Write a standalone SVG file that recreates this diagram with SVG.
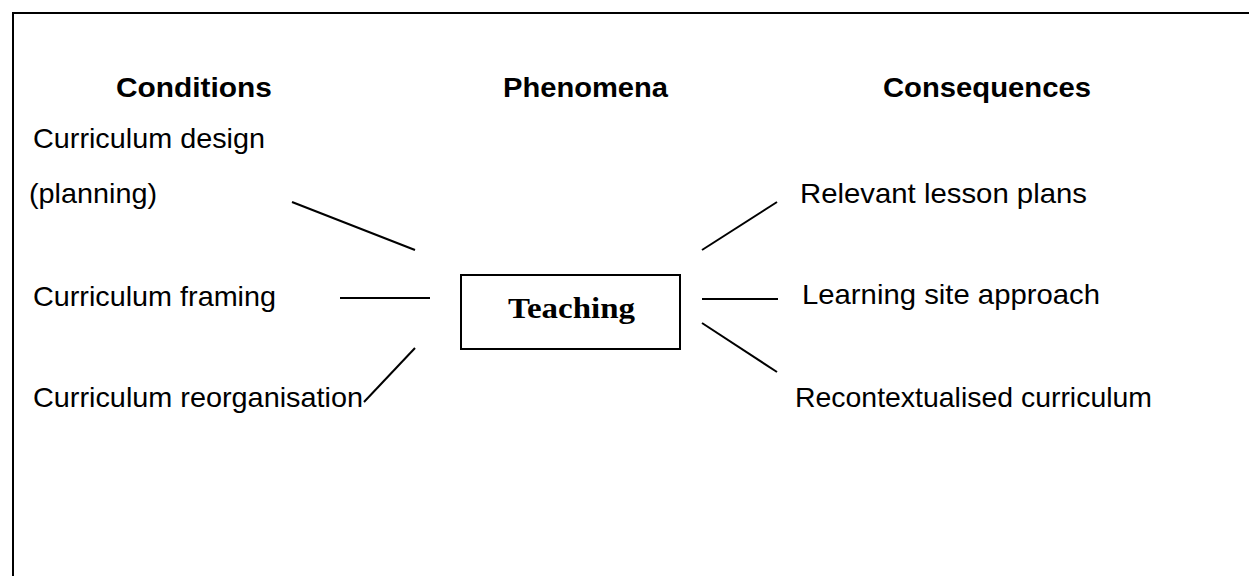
<svg xmlns="http://www.w3.org/2000/svg" width="1249" height="576" viewBox="0 0 1249 576">
  <style>
    .head { font-family: "Liberation Sans", Arial, sans-serif; font-weight: bold; font-size: 27px; fill: #000; }
    .item { font-family: "Liberation Sans", Arial, sans-serif; font-size: 28.5px; fill: #000; }
    .core { font-family: "Liberation Serif", "Times New Roman", serif; font-weight: bold; font-size: 30px; fill: #000; }
    .frame { stroke: #000; stroke-width: 2; fill: none; }
    .link { stroke: #000; stroke-width: 2; fill: none; }
    .box { stroke: #000; stroke-width: 2; fill: #fff; }
  </style>
  <rect width="1249" height="576" fill="#fff"/>

  <!-- outer frame: top and left rules -->
  <g id="frame">
    <path class="frame" d="M13,576 L13,13 L1249,13"/>
  </g>

  <!-- column headings -->
  <g id="headings">
    <text class="head" x="116" y="97" textLength="156" lengthAdjust="spacingAndGlyphs">Conditions</text>
    <text class="head" x="503" y="97" textLength="165" lengthAdjust="spacingAndGlyphs">Phenomena</text>
    <text class="head" x="883" y="97" textLength="208" lengthAdjust="spacingAndGlyphs">Consequences</text>
  </g>

  <!-- conditions -->
  <g id="cond-design">
    <text class="item" x="33" y="148" textLength="232" lengthAdjust="spacingAndGlyphs">Curriculum design</text>
    <text class="item" x="29" y="203" textLength="128" lengthAdjust="spacingAndGlyphs">(planning)</text>
  </g>
  <g id="cond-framing">
    <text class="item" x="33" y="306" textLength="243" lengthAdjust="spacingAndGlyphs">Curriculum framing</text>
  </g>
  <g id="cond-reorg">
    <text class="item" x="33" y="407" textLength="330" lengthAdjust="spacingAndGlyphs">Curriculum reorganisation</text>
  </g>

  <!-- central phenomenon -->
  <g id="teaching">
    <rect class="box" x="461" y="275" width="219" height="74"/>
    <text class="core" x="508" y="318" textLength="127" lengthAdjust="spacingAndGlyphs">Teaching</text>
  </g>

  <!-- consequences -->
  <g id="cons-lessons">
    <text class="item" x="800" y="203" textLength="287" lengthAdjust="spacingAndGlyphs">Relevant lesson plans</text>
  </g>
  <g id="cons-site">
    <text class="item" x="802" y="304" textLength="298" lengthAdjust="spacingAndGlyphs">Learning site approach</text>
  </g>
  <g id="cons-recontext">
    <text class="item" x="795" y="407" textLength="357" lengthAdjust="spacingAndGlyphs">Recontextualised curriculum</text>
  </g>

  <!-- connectors -->
  <g id="connectors">
    <line class="link" x1="292" y1="202" x2="415" y2="250"/>
    <line class="link" x1="340" y1="298" x2="430" y2="298"/>
    <line class="link" x1="364" y1="402" x2="415" y2="348"/>
    <line class="link" x1="702" y1="250" x2="777" y2="202"/>
    <line class="link" x1="702" y1="299" x2="778" y2="299"/>
    <line class="link" x1="702" y1="323" x2="777" y2="372"/>
  </g>
</svg>
